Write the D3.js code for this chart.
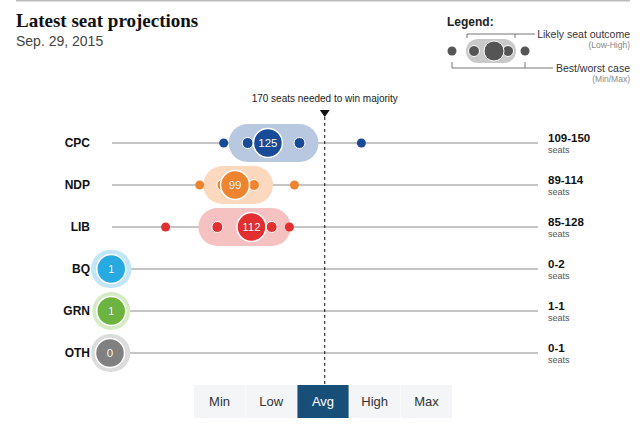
<!DOCTYPE html>
<html>
<head>
<meta charset="utf-8">
<script src="https://cdn.jsdelivr.net/npm/d3@7"></script>
<style>
    body { margin: 0; background: #fff; }
    svg { display: block; font-family: 'Liberation Sans', Arial, sans-serif; }
</style>
</head>
<body>
<div id="chart"></div>
<script>
const parties = ['CPC', 'NDP', 'LIB', 'BQ', 'GRN', 'OTH'];
const minSeats = [90, 71, 44, 0, 0, 0];
const lowSeats = [109, 89, 85, 0, 1, 0];
const avgSeats = [125, 99, 112, 1, 1, 0];
const highSeats = [150, 114, 128, 2, 1, 1];
const maxSeats = [199, 146, 142, 3, 2, 2];
const dotColors = ['#174a97', '#ef8430', '#e32f2f', '#27a9e1', '#6cb33f', '#808080'];
const pillColors = ['#b7c8e0', '#fbd8be', '#f6c1c1', '#c3e6f7', '#d5ebc4', '#dcdcdc'];
const buttons = ['Min', 'Low', 'Avg', 'High', 'Max'];
const activeButton = 'Avg';
const majority = 170;
const totalSeats = 338;

function createChart(){
    const width = 640;
    const height = 427;
    const pill_r = 19;
    const big_r = 14.5;
    const dot_r = 4.5;

    let rows = parties.map(function(p, i){
        return {party: p, min: minSeats[i], low: lowSeats[i], avg: avgSeats[i],
                high: highSeats[i], max: maxSeats[i], color: dotColors[i], pill: pillColors[i]};
    });

    let svg = d3.select('#chart').append('svg')
                .attr('width', width)
                .attr('height', height);

    let x = d3.scaleLinear().domain([0, totalSeats]).range([110, 537]);
    let y = d3.scalePoint().domain(parties).range([143, 353]);

    // header
    svg.append('line')
       .attr('x1', 16).attr('x2', 630).attr('y1', 0.5).attr('y2', 0.5)
       .attr('stroke', '#bbb').attr('stroke-width', 2);
    svg.append('text')
       .text('Latest seat projections')
       .attr('x', 16).attr('y', 27)
       .style('font-family', "'Liberation Serif', serif")
       .style('font-weight', 'bold')
       .style('font-size', '19px')
       .attr('fill', '#111');
    svg.append('text')
       .text('Sep. 29, 2015')
       .attr('x', 16).attr('y', 46)
       .style('font-size', '14px')
       .attr('fill', '#444');

    // legend
    let lg = svg.append('g');
    lg.append('text').text('Legend:')
      .attr('x', 447).attr('y', 26)
      .style('font-size', '12px').style('font-weight', 'bold').attr('fill', '#222');
    lg.append('path')
      .attr('d', 'M467,38V34H535M515,34V38')
      .attr('fill', 'none').attr('stroke', '#777');
    lg.append('path')
      .attr('d', 'M452,62V68H553M525,62V68')
      .attr('fill', 'none').attr('stroke', '#777');
    lg.append('rect')
      .attr('x', 466).attr('y', 39).attr('width', 50).attr('height', 24).attr('rx', 12)
      .attr('fill', '#c9c9c9');
    [452, 474, 508, 525].forEach(function(cx){
        let inner = cx == 474 || cx == 508;
        lg.append('circle').attr('cx', cx).attr('cy', 51).attr('r', inner ? 5.5 : dot_r)
          .attr('fill', '#555').attr('stroke', inner ? '#fff' : 'none');
    });
    lg.append('circle').attr('cx', 494).attr('cy', 51).attr('r', 10)
      .attr('fill', '#555').attr('stroke', '#fff');
    lg.append('text').text('Likely seat outcome')
      .attr('x', 630).attr('y', 38).attr('text-anchor', 'end')
      .style('font-size', '10.5px').attr('fill', '#333');
    lg.append('text').text('(Low-High)')
      .attr('x', 630).attr('y', 48).attr('text-anchor', 'end')
      .style('font-size', '8.5px').attr('fill', '#888');
    lg.append('text').text('Best/worst case')
      .attr('x', 630).attr('y', 72).attr('text-anchor', 'end')
      .style('font-size', '10.5px').attr('fill', '#333');
    lg.append('text').text('(Min/Max)')
      .attr('x', 630).attr('y', 82).attr('text-anchor', 'end')
      .style('font-size', '8.5px').attr('fill', '#888');

    // row lines
    svg.selectAll('line.rowline')
       .data(rows).enter().append('line')
       .attr('x1', x(0) + 2).attr('x2', x(totalSeats) + 1)
       .attr('y1', function(d){return y(d.party);})
       .attr('y2', function(d){return y(d.party);})
       .attr('stroke', '#8a8a8a').attr('stroke-width', 1);

    // likely range pills
    svg.selectAll('rect.pill')
       .data(rows).enter().append('rect')
       .attr('x', function(d){return x(d.low) - pill_r;})
       .attr('y', function(d){return y(d.party) - pill_r;})
       .attr('width', function(d){return x(d.high) - x(d.low) + 2*pill_r;})
       .attr('height', 2*pill_r)
       .attr('rx', pill_r)
       .attr('fill', function(d){return d.pill;});

    // majority marker
    svg.append('text')
       .text(majority + ' seats needed to win majority')
       .attr('x', x(majority)).attr('y', 102).attr('text-anchor', 'middle')
       .style('font-size', '10px').attr('fill', '#222');
    svg.append('path')
       .attr('d', 'M' + (x(majority) - 5) + ',110h10l-5,7z')
       .attr('fill', '#111');
    svg.append('line')
       .attr('x1', x(majority)).attr('x2', x(majority))
       .attr('y1', 117).attr('y2', 385)
       .attr('stroke', '#111').attr('stroke-dasharray', '3,3');

    // min / low / high / max dots
    ['min', 'max', 'low', 'high'].forEach(function(key){
        let inner = key == 'low' || key == 'high';
        svg.selectAll('circle.' + key)
           .data(rows).enter().append('circle')
           .attr('cx', function(d){return x(d[key]);})
           .attr('cy', function(d){return y(d.party);})
           .attr('r', inner ? 5.5 : dot_r)
           .attr('fill', function(d){return d.color;})
           .attr('stroke', inner ? '#fff' : 'none')
           .attr('stroke-width', 1);
    });

    // average circle
    svg.selectAll('circle.avg')
       .data(rows).enter().append('circle')
       .attr('cx', function(d){return x(d.avg);})
       .attr('cy', function(d){return y(d.party);})
       .attr('r', big_r)
       .attr('fill', function(d){return d.color;})
       .attr('stroke', '#fff').attr('stroke-width', 1.5);
    svg.selectAll('text.avg')
       .data(rows).enter().append('text')
       .text(function(d){return d.avg;})
       .attr('x', function(d){return x(d.avg);})
       .attr('y', function(d){return y(d.party) + 4;})
       .attr('text-anchor', 'middle')
       .style('font-size', '11.5px')
       .attr('fill', '#fff')
       .attr('stroke', 'rgba(0,0,0,0.25)').attr('stroke-width', 0.6)
       .style('paint-order', 'stroke');

    // party labels
    svg.selectAll('text.party')
       .data(rows).enter().append('text')
       .text(function(d){return d.party;})
       .attr('x', 90)
       .attr('y', function(d){return y(d.party) + 4;})
       .attr('text-anchor', 'end')
       .style('font-size', '12px').style('font-weight', 'bold')
       .attr('fill', '#111');

    // range labels on the right
    svg.selectAll('text.range')
       .data(rows).enter().append('text')
       .text(function(d){return d.low + '-' + d.high;})
       .attr('x', 548)
       .attr('y', function(d){return y(d.party) - 1;})
       .style('font-size', '11.5px').style('font-weight', 'bold')
       .attr('fill', '#111');
    svg.selectAll('text.seats')
       .data(rows).enter().append('text')
       .text('seats')
       .attr('x', 548)
       .attr('y', function(d){return y(d.party) + 10;})
       .style('font-size', '9px')
       .attr('fill', '#555');

    // view buttons
    let bx = d3.scaleBand().domain(buttons).range([194, 452]).paddingInner(0.01);
    let btn = svg.selectAll('g.btn')
                 .data(buttons).enter().append('g');
    btn.append('rect')
       .attr('x', function(d){return bx(d);})
       .attr('y', 385)
       .attr('width', bx.bandwidth())
       .attr('height', 33)
       .attr('fill', function(d){return d == activeButton ? '#174f78' : '#f3f5f7';});
    btn.append('text')
       .text(function(d){return d;})
       .attr('x', function(d){return bx(d) + bx.bandwidth()/2;})
       .attr('y', 406)
       .attr('text-anchor', 'middle')
       .style('font-size', '13px')
       .attr('fill', function(d){return d == activeButton ? '#fff' : '#333';});
}

createChart();
</script>
</body>
</html>
